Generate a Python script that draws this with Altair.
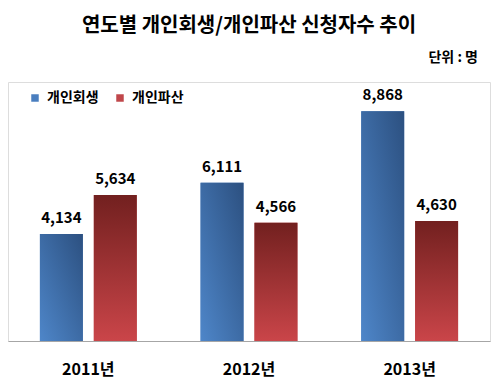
import altair as alt
import pandas as pd

years = ["2011년", "2012년", "2013년"]
series = ["개인회생", "개인파산"]
rehab = [4134, 6111, 8868]
bankrupt = [5634, 4566, 4630]
title_text = "연도별 개인회생/개인파산 신청자수 추이"
unit_text = "단위 : 명"

rows = []
for i, y in enumerate(years):
    rows.append({"year": y, "series": series[0], "value": rehab[i]})
    rows.append({"year": y, "series": series[1], "value": bankrupt[i]})
df = pd.DataFrame(rows)
df["label"] = df["value"].map(lambda v: f"{v:,}")

FONT = "Noto Sans CJK KR"

x_enc = alt.X("year:N", sort=years, title=None,
              scale=alt.Scale(paddingInner=0, paddingOuter=0),
              axis=alt.Axis(labelAngle=0, ticks=False, domainColor="#a6a6a6",
                            domainWidth=1.2, labelFont=FONT, labelFontSize=16,
                            labelFontWeight="bold", labelColor="#000000",
                            labelPadding=20, grid=False))
xo_enc = alt.XOffset("series:N", sort=series,
                     scale=alt.Scale(paddingInner=0.2037, paddingOuter=0.592))
y_enc = alt.Y("value:Q", scale=alt.Scale(domain=[0, 10000]), axis=None)

base = alt.Chart(df).encode(x=x_enc, xOffset=xo_enc, y=y_enc)

solid = base.mark_bar().encode(
    color=alt.Color("series:N", sort=series,
                    scale=alt.Scale(domain=series, range=["#4a7ebf", "#c0474b"]),
                    legend=alt.Legend(title=None, orient="none", legendX=20, legendY=9,
                                      direction="horizontal", symbolType="square",
                                      symbolSize=56, symbolStrokeWidth=0,
                                      labelFont=FONT, labelFontSize=14,
                                      labelFontWeight="bold", labelColor="#000000",
                                      labelOffset=5, columnPadding=14))
)

blue_grad = alt.Gradient(gradient="linear", x1=0, y1=1, x2=1, y2=0,
                         stops=[alt.GradientStop(offset=0, color="#4e86c9"),
                                alt.GradientStop(offset=1, color="#2c5080")])
red_grad = alt.Gradient(gradient="linear", x1=0, y1=0, x2=0, y2=1,
                        stops=[alt.GradientStop(offset=0, color="#72201f"),
                               alt.GradientStop(offset=1, color="#ca4549")])

blue = base.mark_bar(color=blue_grad).transform_filter(alt.datum.series == series[0])
red = base.mark_bar(color=red_grad).transform_filter(alt.datum.series == series[1])

labels = base.mark_text(dy=-16, font=FONT, fontSize=15, fontWeight="bold",
                        color="#000000").encode(text="label:N")

unit = alt.Chart(pd.DataFrame({"t": [unit_text]})).mark_text(
    font=FONT, fontSize=14, fontWeight="bold", color="#000000", align="right",
    baseline="middle").encode(text="t:N", x=alt.value(470), y=alt.value(-24))

chart = alt.layer(solid, blue, red, labels, unit).properties(
    width=482, height=259,
    title=alt.TitleParams(title_text, font=FONT, fontSize=20, fontWeight="bold",
                          color="#000000", anchor="middle", frame="group", offset=15),
    autosize=alt.AutoSizeParams(type="none"),
    padding={"left": 0, "right": 3, "top": 74, "bottom": 39},
).configure_view(stroke=None).configure(background="#ffffff")

chart.save("out.html", embed_options={"renderer": "svg", "actions": False})
